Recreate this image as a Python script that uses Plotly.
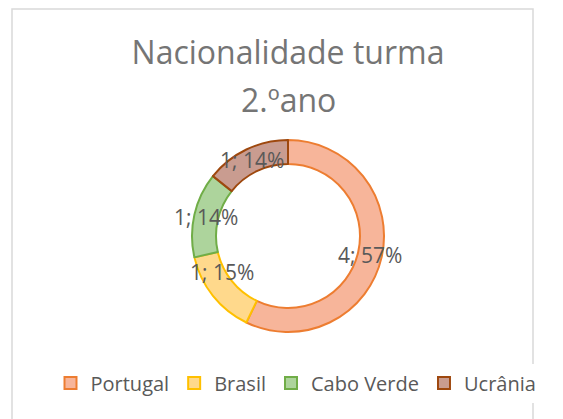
import math
import plotly.graph_objects as go

# dados
paises = ['Portugal', 'Brasil', 'Cabo Verde', 'Ucrânia']
alunos = [4, 1, 1, 1]
percentagens = [57, 15, 14, 14]  # como o Excel mostra

cores = ['#F7B59A', '#FFD98C', '#ADD49C', '#C99C90']
contornos = ['#ED7D31', '#FFC000', '#70AD47', '#9E480E']

# a página tem 8px de margem no body, por isso a figura é 8px menor
W, H = 555, 411
cx, cy, raio = 280, 228, 96   # centro e raio do anel em px (dentro da figura)
fonte = 'Open Sans'

fig = go.Figure(go.Pie(
    labels=paises,
    values=alunos,
    hole=0.75,
    sort=False,
    direction='clockwise',
    rotation=0,
    textinfo='none',
    marker=dict(colors=cores, line=dict(color=contornos, width=2)),
    domain=dict(x=[(cx - raio) / W, (cx + raio) / W],
                y=[(H - cy - raio) / H, (H - cy + raio) / H]),
))

# rótulos "valor; %" a meio do anel
anotacoes = []
total = sum(alunos)
acum = 0
r_txt = raio * 0.875
for v, p in zip(alunos, percentagens):
    ang = 2 * math.pi * (acum + v / 2) / total
    acum += v
    anotacoes.append(dict(
        x=(cx + r_txt * math.sin(ang)) / W,
        y=(H - cy + r_txt * math.cos(ang)) / H,
        xref='paper', yref='paper', showarrow=False,
        text=f'{v}; {p}%',
        font=dict(family=fonte, size=21, color='#595959'),
    ))

# segunda linha do título (espaçamento maior que o do plotly)
anotacoes.append(dict(
    x=cx / W, y=1 - 92 / H, xref='paper', yref='paper', showarrow=False,
    xanchor='center', yanchor='middle', text='2.ºano',
    font=dict(family=fonte, size=32, color='#757575'),
))

fig.update_layout(
    width=W, height=H,
    margin=dict(l=0, r=0, t=0, b=0, autoexpand=False),
    paper_bgcolor='white',
    title=dict(text='Nacionalidade turma', x=cx / W, xanchor='center',
               y=1 - 45 / H, yanchor='middle', automargin=False,
               font=dict(family=fonte, size=32, color='#757575')),
    showlegend=True,
    legend=dict(orientation='h', x=288 / W, xanchor='center', y=(H - 375) / H,
                yanchor='middle', font=dict(family=fonte, size=20, color='#595959'),
                itemwidth=30, traceorder='normal'),
    annotations=anotacoes,
    shapes=[dict(type='rect', xref='paper', yref='paper',
                 x0=4 / W, x1=525 / W, y0=-0.05, y1=1 - 1 / H,
                 line=dict(color='#D9D9D9', width=1.5))],
)

fig.write_html('out.html')
